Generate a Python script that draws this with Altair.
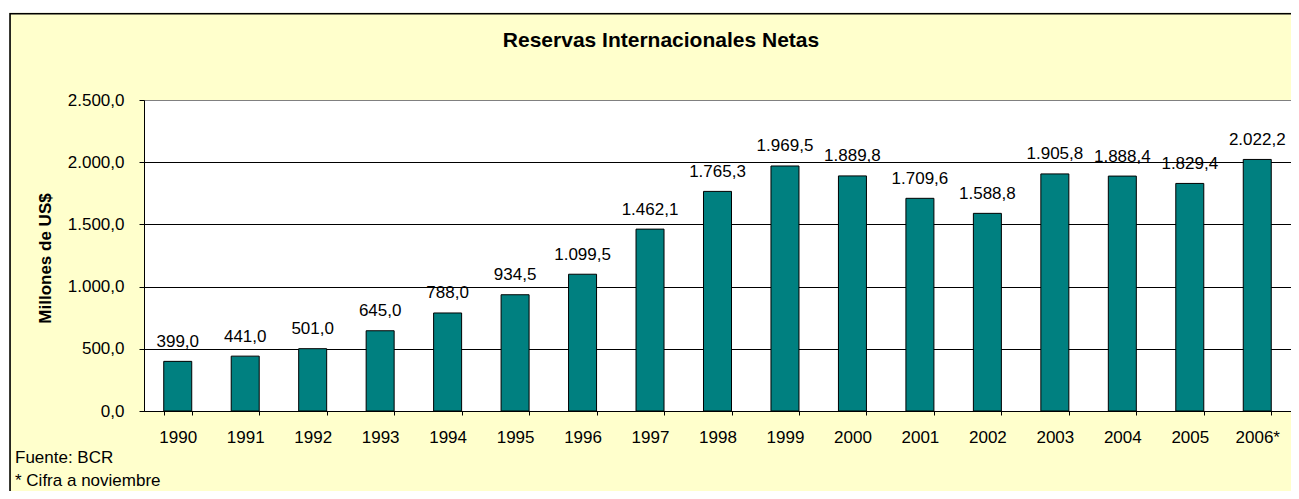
import altair as alt
import pandas as pd

years = ["1990", "1991", "1992", "1993", "1994", "1995", "1996", "1997", "1998",
         "1999", "2000", "2001", "2002", "2003", "2004", "2005", "2006*"]
values = [399.0, 441.0, 501.0, 645.0, 788.0, 934.5, 1099.5, 1462.1, 1765.3,
          1969.5, 1889.8, 1709.6, 1588.8, 1905.8, 1888.4, 1829.4, 2022.2]
y_ticks = [0, 500, 1000, 1500, 2000, 2500]
title_text = ["Reservas Internacionales Netas"]
y_title = "Millones de US$"
notes = ["Fuente: BCR", "* Cifra a noviembre"]


def fmt(v):
    s = f"{v:,.1f}"
    return s.replace(",", "X").replace(".", ",").replace("X", ".")


df = pd.DataFrame({"year": years, "value": values, "label": [fmt(v) for v in values]})

W, H = 1147, 311
FONT = "Liberation Sans"
FS = 17

label_expr = ("replace(replace(replace(format(datum.value, ',.1f'), ',', 'X'), '.', ','), 'X', '.')")

x = alt.X(
    "year:N", sort=years,
    scale=alt.Scale(paddingInner=0.585, paddingOuter=0.2925),
    axis=alt.Axis(title=None, labelAngle=0, tickBand="extent", grid=False,
                  domainColor="black", tickColor="black", tickSize=4,
                  labelFontSize=FS, labelFont=FONT, labelColor="black",
                  labelBaseline="alphabetic", labelPadding=27.5),
)
y = alt.Y(
    "value:Q",
    scale=alt.Scale(domain=[0, 2500], nice=False, zero=True),
    axis=alt.Axis(values=y_ticks, labelExpr=label_expr, title=y_title,
                  titleFontSize=FS, titleFont=FONT, titleFontWeight="bold",
                  titleAngle=270, titleX=-98.5, titleY=158, titleBaseline="middle",
                  titleAlign="center", titleColor="black",
                  grid=True,
                  gridColor={"condition": {"test": "datum.value >= 2500", "value": "#808080"},
                             "value": "black"},
                  gridOpacity=1, gridWidth=1,
                  domainColor="black", tickColor="black", tickSize=5,
                  labelPadding=15, labelFontSize=FS, labelFont=FONT, labelColor="black"),
)

base = alt.Chart(df)
bars = base.mark_bar(color="#008080", stroke="black", strokeWidth=1).encode(x=x, y=y)
labels = base.mark_text(dy=-14.5, baseline="alphabetic", fontSize=FS, font=FONT,
                        color="black").encode(x=x, y=y, text="label:N")

one = pd.DataFrame({"k": [0]})
frame = alt.Chart(one).mark_rect(fillOpacity=0, stroke="black", strokeWidth=1.7).encode(
    x=alt.value(-134), x2=alt.value(W + 60), y=alt.value(-86.3), y2=alt.value(H + 150))
strip_top = alt.Chart(one).mark_rect(fill="white").encode(
    x=alt.value(-136), x2=alt.value(W + 10), y=alt.value(-92), y2=alt.value(-87.2))
strip_left = alt.Chart(one).mark_rect(fill="white").encode(
    x=alt.value(-136), x2=alt.value(-134.9), y=alt.value(-92), y2=alt.value(H + 100))

title = alt.Chart(pd.DataFrame({"t": title_text})).mark_text(
    fontSize=21, font=FONT, fontWeight="bold", align="center", baseline="alphabetic",
    color="black").encode(x=alt.value(517), y=alt.value(-53), text="t:N")

note1 = alt.Chart(pd.DataFrame({"t": [notes[0]]})).mark_text(
    fontSize=FS, font=FONT, align="left", baseline="alphabetic", color="black").encode(
    x=alt.value(-129), y=alt.value(363.3), text="t:N")
note2 = alt.Chart(pd.DataFrame({"t": [notes[1]]})).mark_text(
    fontSize=FS, font=FONT, align="left", baseline="alphabetic", color="black").encode(
    x=alt.value(-129), y=alt.value(386), text="t:N")

chart = alt.layer(bars, labels, frame, strip_top, strip_left, title, note1, note2).properties(
    width=W, height=H,
    autosize=alt.AutoSizeParams(type="none"),
    padding={"left": 136, "top": 92, "right": 0, "bottom": 80},
    background="#FFFFCC",
).configure_view(fill="white", stroke="#808080", strokeWidth=1)

chart.save("out.html", embed_options={"renderer": "svg", "actions": False})
